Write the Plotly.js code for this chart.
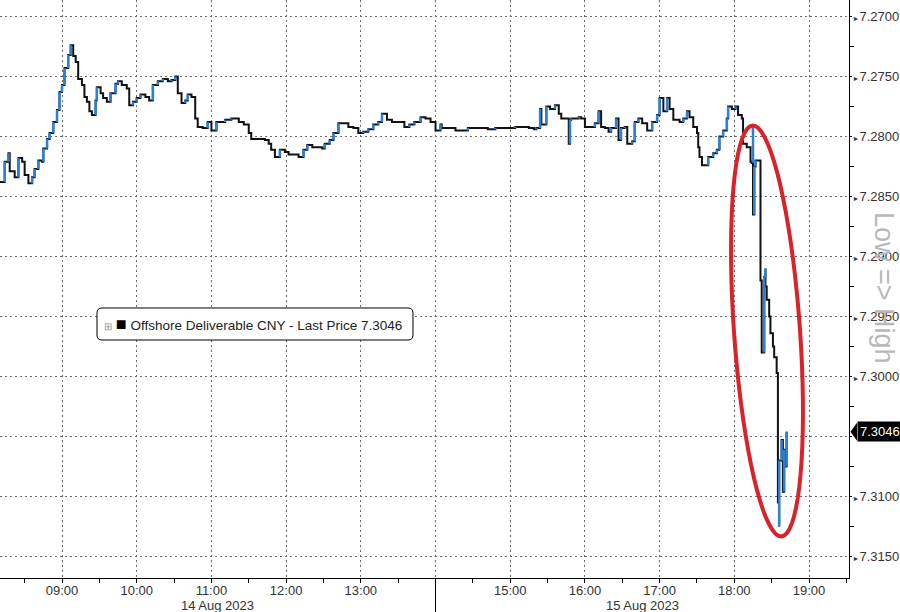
<!DOCTYPE html>
<html><head><meta charset="utf-8">
<script src="https://cdn.plot.ly/plotly-3.0.1.min.js"></script>
<style>html,body{margin:0;padding:0;background:#fff}#chart{width:900px;height:612px}</style>
</head><body><div id="chart"></div>
<script>
// ---- data ----
const times = ['08:10','08:14','08:17','08:18','08:22','08:25','08:28','08:30','08:33','08:36','08:38','08:41','08:44','08:45','08:48','08:50','08:53','08:56','08:58','09:00','09:02','09:05','09:07','09:09','09:11','09:13','09:16','09:18','09:20','09:22','09:24','09:27','09:28','09:31','09:33','09:36','09:39','09:43','09:45','09:48','09:52','09:54','09:57','10:00','10:03','10:07','10:10','10:13','10:17','10:21','10:25','10:28','10:31','10:33','10:36','10:39','10:41','10:44','10:47','10:49','10:53','10:57','11:00','11:04','11:07','11:11','11:16','11:22','11:26','11:30','11:32','11:38','11:43','11:46','11:48','11:51','11:55','11:59','12:02','12:06','12:10','12:14','12:17','12:21','12:25','12:29','12:31','12:35','12:38','12:42','12:46','12:50','12:54','12:58','13:02','13:06','13:10','13:14','13:17','13:21','13:25','13:30','13:35','13:39','13:43','13:48','13:52','13:56','14:00','14:04','14:05','14:10','14:16','14:21','14:26','14:32','14:37','14:42','14:48','14:53','14:59','15:04','15:09','15:15','15:19','15:21','15:24','15:25','15:29','15:32','15:36','15:39','15:41','15:44','15:47','15:48','15:49','15:55','15:57','16:00','16:04','16:08','16:11','16:13','16:16','16:19','16:21','16:25','16:27','16:29','16:32','16:34','16:38','16:40','16:43','16:46','16:50','16:54','16:58','17:00','17:03','17:06','17:08','17:11','17:14','17:16','17:19','17:22','17:24','17:27','17:30','17:31','17:32','17:34','17:36','17:39','17:43','17:46','17:48','17:51','17:54','17:55','17:58','18:01','18:03','18:06','18:07','18:10','18:13','18:14','18:15','18:15','18:16','18:17','18:21','18:22','18:22','18:24','18:25','18:25','18:26','18:28','18:29','18:31','18:32','18:34','18:35','18:35','18:35','18:36','18:36','18:38','18:39','18:39','18:40','18:41','18:42'];
const prices = [7.2838,7.2821,7.2814,7.2829,7.2834,7.2818,7.2821,7.2832,7.2839,7.2834,7.2827,7.2820,7.2821,7.2810,7.2802,7.2797,7.2788,7.2778,7.2763,7.2757,7.2743,7.2732,7.2724,7.2733,7.2738,7.2752,7.2757,7.2767,7.2771,7.2779,7.2782,7.2770,7.2759,7.2764,7.2768,7.2771,7.2764,7.2756,7.2754,7.2757,7.2760,7.2774,7.2771,7.2768,7.2765,7.2767,7.2770,7.2757,7.2754,7.2752,7.2754,7.2753,7.2750,7.2764,7.2772,7.2770,7.2765,7.2767,7.2785,7.2792,7.2793,7.2788,7.2795,7.2788,7.2788,7.2786,7.2785,7.2788,7.2790,7.2797,7.2802,7.2802,7.2803,7.2806,7.2811,7.2817,7.2811,7.2813,7.2815,7.2815,7.2817,7.2811,7.2807,7.2809,7.2809,7.2810,7.2806,7.2803,7.2797,7.2789,7.2789,7.2792,7.2793,7.2797,7.2796,7.2794,7.2790,7.2788,7.2781,7.2786,7.2788,7.2788,7.2792,7.2790,7.2788,7.2784,7.2785,7.2788,7.2795,7.2790,7.2793,7.2793,7.2795,7.2795,7.2793,7.2793,7.2793,7.2794,7.2793,7.2793,7.2793,7.2792,7.2792,7.2793,7.2794,7.2793,7.2777,7.2790,7.2775,7.2777,7.2774,7.2781,7.2785,7.2785,7.2806,7.2786,7.2785,7.2784,7.2785,7.2792,7.2792,7.2789,7.2779,7.2792,7.2793,7.2796,7.2793,7.2785,7.2803,7.2793,7.2792,7.2806,7.2804,7.2788,7.2785,7.2789,7.2795,7.2788,7.2782,7.2768,7.2779,7.2768,7.2777,7.2786,7.2786,7.2788,7.2785,7.2779,7.2784,7.2792,7.2797,7.2809,7.2817,7.2824,7.2824,7.2817,7.2814,7.2811,7.2800,7.2795,7.2785,7.2775,7.2777,7.2775,7.2782,7.2785,7.2806,7.2809,7.2821,7.2822,7.2790,7.2865,7.2825,7.2820,7.2920,7.2961,7.2980,7.2917,7.2910,7.2925,7.2936,7.2950,7.2964,7.2975,7.2984,7.2997,7.3021,7.3064,7.3105,7.3125,7.3070,7.3053,7.3084,7.3096,7.3061,7.3075,7.3046];
const yTickVals = [7.2700,7.2750,7.2800,7.2850,7.2900,7.2950,7.3000,7.3050,7.3100,7.3150];
const xTickHours = [9,10,11,12,13,14,15,16,17,18,19];
const xTickLabels = ['09:00','10:00','11:00','12:00','13:00','','15:00','16:00','17:00','18:00','19:00'];
const dayLabels = ['14 Aug 2023','15 Aug 2023'];
const dayBreakHour = 14;
const lastPrice = 7.3046;
const seriesName = 'Offshore Deliverable CNY - Last Price';
const axisNote = 'Low =&gt; High';

// ---- geometry helpers (layout only) ----
const W = 900, H = 612, ML = 0, MR = 51, MT = 0, MB = 34;
const PW = W - ML - MR, PH = H - MT - MB;
const X_RANGE = [8.170, 19.535];
const Y_RANGE = [7.316792, 7.268625];
const px2pX = px => (px - ML) / PW;
const py2pY = py => 1 - (py - MT) / PH;

const xh = times.map(s => parseInt(s.slice(0,2),10) + parseInt(s.slice(3),10)/60);

// blue segments where price falls (chart rises, axis inverted)
const bx = [], by = [];
for (let i = 1; i < prices.length; i++) {
  if (prices[i] < prices[i-1]) {
    bx.push(xh[i], xh[i], null);
    by.push(prices[i-1], prices[i], null);
  }
}

// the tag covers the tick label at the last price, as in the reference
const yTickText = yTickVals.map(v => Math.abs(v - lastPrice) < 0.001 ? '' :
  '<span style="font-size:7px">►</span>' + v.toFixed(4));

function ellipsePath(cx, cy, a, b, theta) {
  const u = [Math.sin(theta), Math.cos(theta)];
  const v = [Math.cos(theta), -Math.sin(theta)];
  let d = '';
  for (let k = 0; k <= 72; k++) {
    const t = 2*Math.PI*k/72;
    const px = cx + a*Math.cos(t)*u[0] + b*Math.sin(t)*v[0];
    const py = cy + a*Math.cos(t)*u[1] + b*Math.sin(t)*v[1];
    d += (k === 0 ? 'M' : 'L') + px2pX(px).toFixed(5) + ',' + py2pY(py).toFixed(5);
  }
  return d + 'Z';
}
function roundRect(x0, y0, x1, y1, r) {
  const P = (x, y) => px2pX(x).toFixed(5) + ',' + py2pY(y).toFixed(5);
  return 'M' + P(x0+r, y0) + 'L' + P(x1-r, y0) + 'Q' + P(x1, y0) + ' ' + P(x1, y0+r) +
    'L' + P(x1, y1-r) + 'Q' + P(x1, y1) + ' ' + P(x1-r, y1) +
    'L' + P(x0+r, y1) + 'Q' + P(x0, y1) + ' ' + P(x0, y1-r) +
    'L' + P(x0, y0+r) + 'Q' + P(x0, y0) + ' ' + P(x0+r, y0) + 'Z';
}

const FONT = 'Liberation Sans, Arial, sans-serif';

const traces = [
  { x: xh, y: prices, type: 'scatter', mode: 'lines', line: { color: '#111', width: 2, shape: 'hv' }, hoverinfo: 'skip', showlegend: false },
  { x: bx, y: by, type: 'scatter', mode: 'lines', line: { color: '#2f80d4', width: 2.5 }, connectgaps: false, hoverinfo: 'skip', showlegend: false }
];

const tipPx = 850.5, basePx = 857, halfH = 9 / 12000;
const layout = {
  width: W, height: H,
  margin: { l: ML, r: MR, t: MT, b: MB, pad: 0 },
  paper_bgcolor: '#fff', plot_bgcolor: '#fff',
  showlegend: false,
  font: { family: FONT, size: 13, color: '#333' },
  xaxis: {
    type: 'linear', range: X_RANGE, fixedrange: true,
    tickmode: 'array', tickvals: xTickHours, ticktext: xTickLabels,
    ticks: 'outside', ticklen: 4, tickcolor: '#000', tickwidth: 1,
    ticklabelstandoff: -4,
    showgrid: true, gridcolor: '#6a6a6a', gridwidth: 1, griddash: '2px,3px',
    showline: true, linecolor: '#000', linewidth: 1,
    zeroline: false,
    tickfont: { family: FONT, size: 13, color: '#333' },
    minor: { tickmode: 'linear', tick0: 8.5, dtick: 1, ticks: 'outside', ticklen: 4, tickcolor: '#000', showgrid: false }
  },
  yaxis: {
    side: 'right', range: Y_RANGE, fixedrange: true,
    tickmode: 'array', tickvals: yTickVals, ticktext: yTickText,
    ticks: 'outside', ticklen: 2, tickcolor: '#000',
    ticklabelstandoff: -2,
    showgrid: true, gridcolor: '#6a6a6a', gridwidth: 1, griddash: '2px,3px',
    showline: true, linecolor: '#000', linewidth: 1,
    zeroline: false,
    tickfont: { family: FONT, size: 13, color: '#333' },
    minor: { tickmode: 'linear', tick0: 7.2725, dtick: 0.005, ticks: 'outside', ticklen: 4, tickcolor: '#000', showgrid: false }
  },
  shapes: [
    { type: 'line', xref: 'x', yref: 'paper', x0: dayBreakHour, x1: dayBreakHour, y0: 0, y1: -0.07, line: { color: '#000', width: 1 } },
    { type: 'path', xref: 'paper', yref: 'paper', path: ellipsePath(767, 331, 206, 33, Math.atan(29/411)), line: { color: '#d8232b', width: 4 }, fillcolor: 'rgba(0,0,0,0)' },
    { type: 'path', xref: 'paper', yref: 'paper', path: roundRect(97, 308, 413, 340, 5), line: { color: '#000', width: 1 }, fillcolor: '#fff' },
    { type: 'path', xref: 'paper', yref: 'y', path: 'M' + px2pX(tipPx) + ',' + lastPrice + 'L' + px2pX(basePx) + ',' + (lastPrice - halfH) + 'L' + px2pX(basePx) + ',' + (lastPrice + halfH) + 'Z', line: { width: 0 }, fillcolor: '#000' }
  ],
  annotations: [
    { xref: 'x', yref: 'paper', x: (X_RANGE[0] + dayBreakHour) / 2, y: py2pY(605), text: dayLabels[0], showarrow: false, xanchor: 'center', yanchor: 'middle', font: { family: FONT, size: 13, color: '#333' } },
    { xref: 'x', yref: 'paper', x: (dayBreakHour + X_RANGE[1]) / 2, y: py2pY(605), text: dayLabels[1], showarrow: false, xanchor: 'center', yanchor: 'middle', font: { family: FONT, size: 13, color: '#333' } },
    { xref: 'paper', yref: 'y', x: px2pX(basePx), y: lastPrice, text: lastPrice.toFixed(4), showarrow: false, xanchor: 'left', yanchor: 'middle', bgcolor: '#000', borderpad: 2, font: { family: FONT, size: 13, color: '#fff' } },
    { xref: 'paper', yref: 'paper', x: px2pX(884), y: py2pY(288), text: axisNote, textangle: 90, showarrow: false, xanchor: 'center', yanchor: 'middle', font: { family: FONT, size: 27, color: '#b8b8b8' } },
    { xref: 'paper', yref: 'paper', x: px2pX(102), y: py2pY(324), text: '<span style="color:#999;font-size:10px">⊞</span> <span style="font-size:18px;color:#000">■</span> ' + seriesName + ' ' + lastPrice.toFixed(4), showarrow: false, xanchor: 'left', yanchor: 'middle', font: { family: FONT, size: 13.5, color: '#222' } }
  ]
};

Plotly.newPlot('chart', traces, layout, { displayModeBar: false, staticPlot: true });
</script>
</body></html>
